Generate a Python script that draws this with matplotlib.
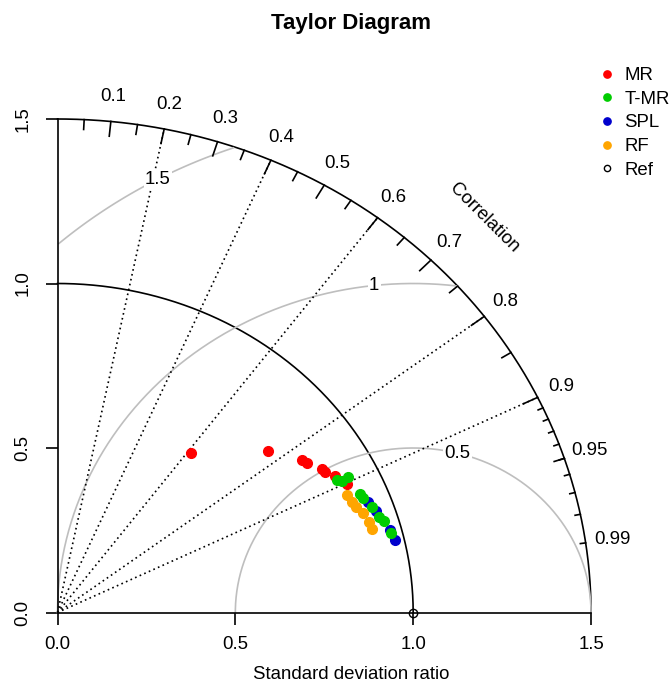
import numpy as np
import matplotlib.pyplot as plt

plt.rcParams['font.family'] = ['Liberation Sans', 'DejaVu Sans']
plt.rcParams['font.size'] = 13.4

# standard deviation ratio and correlation of each model run
mr_sd = [0.612, 0.769, 0.830, 0.836, 0.861, 0.865, 0.884, 0.902]
mr_r = [0.612, 0.769, 0.829, 0.839, 0.863, 0.869, 0.883, 0.901]
tmr_sd = [0.882, 0.894, 0.914, 0.922, 0.927, 0.940, 0.950, 0.960, 0.968]
tmr_r = [0.890, 0.894, 0.893, 0.921, 0.927, 0.940, 0.952, 0.957, 0.968]
spl_sd = [0.937, 0.948, 0.968, 0.974]
spl_r = [0.933, 0.946, 0.966, 0.974]
rf_sd = [0.888, 0.893, 0.899, 0.910, 0.919, 0.921]
rf_r = [0.916, 0.926, 0.934, 0.943, 0.954, 0.961]

ref_sd = 1.0
maxsd = 1.5
corr_lines = [0.2, 0.4, 0.6, 0.8, 0.9]
corr_labels = [0.1, 0.2, 0.3, 0.4, 0.5, 0.6, 0.7, 0.8, 0.9, 0.95, 0.99]
rms_levels = [0.5, 1.0, 1.5]
rms_label_angle = [75.6, 96.3, 118.6]

fs = 13.4
fig = plt.figure(figsize=(6.72, 6.86), dpi=100)
ax = fig.add_axes([57.5 / 672, 73.5 / 686, 533.5 / 672, 493.5 / 686])
ax.set_xlim(0, maxsd)
ax.set_ylim(0, maxsd)
for s in ['top', 'right']:
    ax.spines[s].set_visible(False)
for s in ['left', 'bottom']:
    ax.spines[s].set_linewidth(1.2)
ticks = [0.0, 0.5, 1.0, 1.5]
ax.set_xticks(ticks)
ax.set_yticks(ticks)
ax.set_xticklabels(['%.1f' % t for t in ticks])
ax.set_yticklabels(['%.1f' % t for t in ticks], rotation=90, va='center')
ax.tick_params(direction='out', length=8.6, width=1.2, labelsize=fs)
ax.tick_params(axis='x', pad=8)
ax.tick_params(axis='y', pad=10)
ax.set_xlabel('Standard deviation ratio', fontsize=fs)
# label centred on the full plotting region (0 .. 1.1 * maxsd)
ax.xaxis.set_label_coords(1.1 / 2, -0.108)

# outer arc and reference sd arc
th = np.linspace(0, np.pi / 2, 300)
ax.plot(maxsd * np.cos(th), maxsd * np.sin(th), color='black', lw=1.2, clip_on=False)
ax.plot(ref_sd * np.cos(th), ref_sd * np.sin(th), color='black', lw=1.2, clip_on=False)

# centred rms circles around the reference point
t = np.linspace(0, np.pi, 600)
for g, ang in zip(rms_levels, rms_label_angle):
    xc = ref_sd + g * np.cos(t)
    yc = g * np.sin(t)
    keep = (xc >= 0) & (xc ** 2 + yc ** 2 <= maxsd ** 2 + 1e-9)
    ax.plot(xc[keep], yc[keep], color='#BEBEBE', lw=1.2, clip_on=False)
    a = np.radians(ang)
    ax.text(ref_sd + g * np.cos(a), g * np.sin(a), '%g' % g, ha='center', va='center',
            fontsize=fs, bbox=dict(facecolor='white', edgecolor='none', pad=1))

# correlation rays
for c in corr_lines:
    ax.plot([0, maxsd * c], [0, maxsd * np.sqrt(1 - c ** 2)], color='black',
            lw=1.2, linestyle=(0, (1, 2)), clip_on=False)

# ticks on the correlation arc
for vals, frac in [(np.arange(0.1, 0.91, 0.1), 0.97),
                   (np.arange(0.05, 0.96, 0.1), 0.98),
                   (np.arange(0.91, 0.995, 0.01), 0.99)]:
    for ai in np.arccos(vals):
        ax.plot([maxsd * np.cos(ai), frac * maxsd * np.cos(ai)],
                [maxsd * np.sin(ai), frac * maxsd * np.sin(ai)],
                color='black', lw=1.2, clip_on=False)
for c in corr_labels:
    a = np.arccos(c)
    ax.text(1.05 * maxsd * np.cos(a), 1.05 * maxsd * np.sin(a), '%g' % c,
            ha='center', va='center', fontsize=fs)
ax.text(1.13 * maxsd * np.cos(np.pi / 4), 1.13 * maxsd * np.sin(np.pi / 4), 'Correlation',
        rotation=-45, ha='center', va='center', fontsize=fs)

# model points
groups = [('MR', mr_sd, mr_r, '#FF0000'),
          ('SPL', spl_sd, spl_r, '#0000CD'),
          ('T-MR', tmr_sd, tmr_r, '#00CD00'),
          ('RF', rf_sd, rf_r, '#FFA500')]
handles = {}
for name, sd, r, col in groups:
    sd = np.array(sd)
    r = np.array(r)
    h, = ax.plot(sd * r, sd * np.sqrt(1 - r ** 2), 'o', color=col, ms=7, mec=col,
                 linestyle='none', label=name, clip_on=False)
    handles[name] = h
href, = ax.plot([ref_sd], [0], 'o', mfc='none', mec='black', ms=6, mew=1,
                linestyle='none', label='Ref', clip_on=False, zorder=5)
handles['Ref'] = href

order = ['MR', 'T-MR', 'SPL', 'RF', 'Ref']
fig.legend([handles[k] for k in order], order, loc='upper left',
           bbox_to_anchor=(600 / 672, 1 - 67 / 686), frameon=False,
           markerscale=0.75, handlelength=0.8, handletextpad=0.5,
           labelspacing=0.36, borderaxespad=0, borderpad=0, fontsize=fs)

fig.text(351 / 672, 1 - 23 / 686, 'Taylor Diagram', ha='center', va='center',
         fontsize=16, fontweight='bold')

fig.savefig('out.png', dpi=100)
